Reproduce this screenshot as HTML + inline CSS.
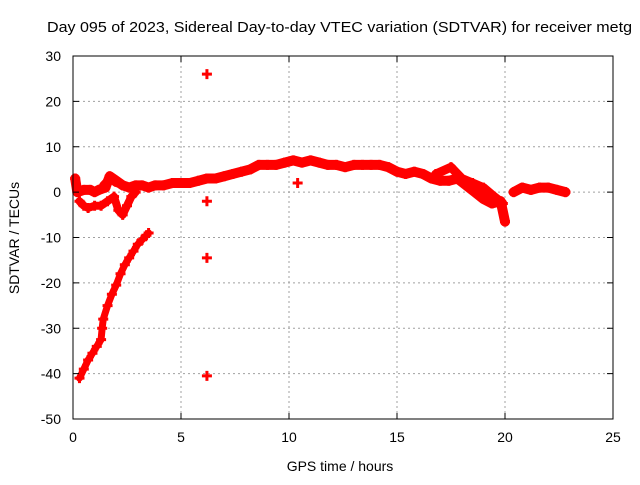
<!DOCTYPE html>
<html><head><meta charset="utf-8"><style>
html,body{margin:0;padding:0;background:#fff;}
svg text{font-family:"Liberation Sans",sans-serif;font-size:14px;fill:#000;}
</style></head><body>
<svg id="chart" width="640" height="480" viewBox="0 0 640 480" xmlns="http://www.w3.org/2000/svg">
<rect width="640" height="480" fill="#fff"/>
<g id="grid"></g>
<g id="series"></g>
<g id="axes"></g>
<text x="47" y="32" style="font-size:15px" textLength="585" lengthAdjust="spacingAndGlyphs">Day 095 of 2023, Sidereal Day-to-day VTEC variation (SDTVAR) for receiver metg</text>
<text x="340" y="471" text-anchor="middle">GPS time / hours</text>
<text x="19" y="238" text-anchor="middle" transform="rotate(-90 19 238)">SDTVAR / TECUs</text>
</svg>
<script>
const xTicks=[0,5,10,15,20,25];
const yTicks=[30,20,10,0,-10,-20,-30,-40,-50];
const mainBand=[[0.1,3],[0.2,0],[0.5,0.5],[0.8,0.5],[1.0,0],[1.2,0.5],[1.5,1],[1.7,3.5],[2,2.5],[2.3,1.5],[2.6,1],[2.9,1.5],[3.2,1.5],[3.5,1],[3.8,1.5],[4.2,1.5],[4.6,2],[5,2],[5.4,2],[5.8,2.5],[6.2,3],[6.6,3],[7,3.5],[7.4,4],[7.8,4.5],[8.2,5],[8.6,6],[9,6],[9.4,6],[9.8,6.5],[10.2,7],[10.6,6.5],[11,7],[11.4,6.5],[11.8,6],[12.2,6],[12.6,5.5],[13,6],[13.4,6],[13.8,6],[14.2,6],[14.6,5.5],[15,4.5],[15.4,4],[15.8,4.5],[16.2,4],[16.6,3],[17,2.5],[17.4,2.5],[17.8,3],[18.2,1.5],[18.6,0],[19,-1.5],[19.4,-2.5],[19.8,-2],[20,-6.5]];
const tailBand=[[20.4,0],[20.8,1],[21.2,0.5],[21.6,1],[22,1],[22.4,0.5],[22.8,0]];
const lowerLoop=[[0.3,-2],[0.5,-3],[0.7,-3.5],[1,-3],[1.3,-3],[1.6,-2],[1.9,-1],[2.1,-4],[2.3,-5],[2.5,-3],[2.7,-1],[2.9,0]];
const upperLoop=[[1.4,1.5],[1.7,3],[2.0,2],[2.4,1.5]];
const lateBand=[[16.8,4],[17.5,5.5],[18,3],[18.5,2],[19,1],[19.5,-1],[19.9,-2.5]];
const descending=[[0.3,-41],[0.5,-39],[0.7,-37],[0.9,-35.5],[1.1,-34],[1.3,-32.5],[1.35,-30],[1.4,-28],[1.6,-25],[1.8,-22.5],[2,-20.5],[2.2,-18],[2.4,-16],[2.6,-14.5],[2.8,-13],[3,-11.5],[3.2,-10.5],[3.4,-9.5],[3.5,-9]];
const outliers=[[6.2,26],[6.2,-2],[6.2,-14.5],[6.2,-40.5],[10.4,2]];
const NS="http://www.w3.org/2000/svg";
const X0=73,X1=613,Y0=56,Y1=419;
function sx(v){return X0+(v-0)/(25-0)*(X1-X0);}
function sy(v){return Y1-(v+50)/80*(Y1-Y0);}
function mk(t,a,p){const e=document.createElementNS(NS,t);for(const k in a)e.setAttribute(k,a[k]);p.appendChild(e);return e;}
const grid=document.getElementById('grid'),axes=document.getElementById('axes'),ser=document.getElementById('series');
xTicks.forEach(v=>{
  if(v>0&&v<25){const g=mk('line',{x1:sx(v),x2:sx(v),y1:Y0,y2:Y1,stroke:'#a0a0a0','stroke-dasharray':'2,3'},grid);
  
  }
  const t=mk('text',{x:sx(v),y:Y1+23,'text-anchor':'middle'},axes);t.textContent=v;
  
  
  mk('line',{x1:sx(v),x2:sx(v),y1:Y1,y2:Y1-6,stroke:'#000'},axes);
  mk('line',{x1:sx(v),x2:sx(v),y1:Y0,y2:Y0+6,stroke:'#000'},axes);
});
yTicks.forEach(v=>{
  if(v<30&&v>-50){const g=mk('line',{x1:X0,x2:X1,y1:sy(v),y2:sy(v),stroke:'#a0a0a0','stroke-dasharray':'2,3'},grid);
  
  }
  const t=mk('text',{x:X0-12,y:sy(v)+5,'text-anchor':'end'},axes);t.textContent=v;
  
  
  mk('line',{x1:X0,x2:X0+6,y1:sy(v),y2:sy(v),stroke:'#000'},axes);
  mk('line',{x1:X1,x2:X1-6,y1:sy(v),y2:sy(v),stroke:'#000'},axes);
});
const fr=mk('rect',{x:X0,y:Y0,width:X1-X0,height:Y1-Y0,fill:'none',stroke:'#000'},axes);


function band(arr,name,w){
  const pl=mk('polyline',{points:arr.map(p=>sx(p[0])+','+sy(p[1])).join(' '),fill:'none',stroke:'#f00','stroke-width':w,'stroke-linejoin':'round','stroke-linecap':'round'},ser);
  
  
}
function pts(arr,name){
  arr.forEach(p=>{const x=sx(p[0]),y=sy(p[1]);
    const pe=mk('path',{d:`M${x-5},${y}H${x+5}M${x},${y-5}V${y+5}`,stroke:'#f00','stroke-width':3},ser);
    
    });
}
band(mainBand,'main-band',10);band(tailBand,'tail-band',10);band(lowerLoop,'lower-loop',8);
band(upperLoop,'upper-loop',8);band(lateBand,'late-band',9);band(descending,'descending-band',7);
pts(mainBand,'main-point');pts(tailBand,'tail-point');pts(lowerLoop,'loop-point');pts(lateBand,'late-point');
pts(descending,'descending-point');pts(outliers,'outlier-point');
</script>
</body></html>
